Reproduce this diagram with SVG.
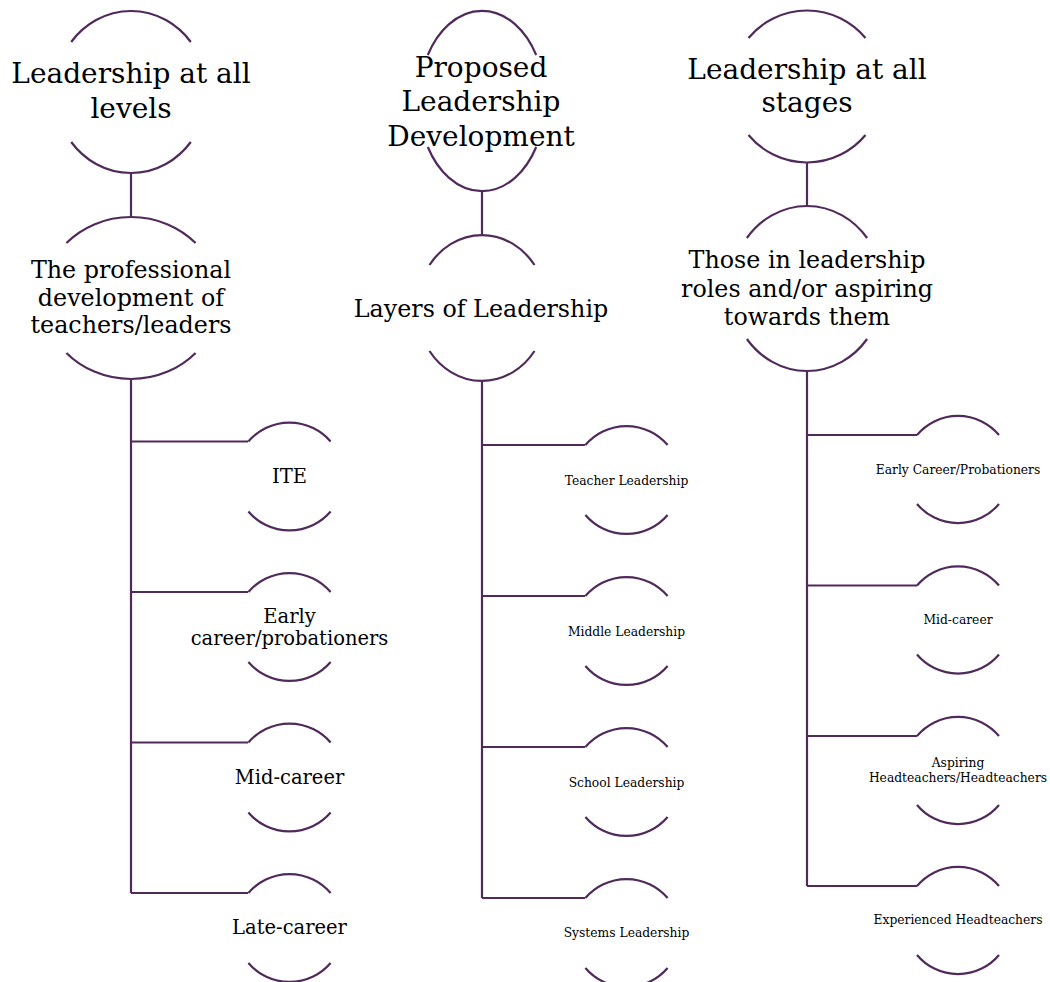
<svg xmlns="http://www.w3.org/2000/svg" width="1050" height="982" viewBox="0 0 1050 982">
<style>
.arc{fill:none;stroke:#502a5a;stroke-width:2.2}
.ln{fill:none;stroke:#502a5a;stroke-width:2.2}
text{font-family:"DejaVu Serif","Liberation Serif",serif;fill:#000;text-anchor:middle}
.t1{font-size:28px}
.t2{font-size:23.8px}
.t3{font-size:19.5px}
.t4{font-size:12.3px}
</style>
<rect width="1050" height="982" fill="#fff"/>
<g id="connectors">
<path class="ln" d="M131,173V217M131,379V893M131,441.5H248M131,592H248M131,742.5H248M131,893H248"/>
<path class="ln" d="M482,191V235M482,381V898M482,445H585M482,596H585M482,747H585M482,898H585"/>
<path class="ln" d="M807,162V206M807,371V886M807,435H917M807,585.5H917M807,736H917M807,886H917"/>
</g>
<g id="n-levels">
<path class="arc" d="M71.2,42A76,81 0 0 1 190.8,42M71.2,142A76,81 0 0 0 190.8,142"/>
<text class="t1" x="131" y="83">Leadership at all</text>
<text class="t1" x="131" y="118">levels</text>
</g>
<g id="n-profdev">
<path class="arc" d="M66.4,243A88,81 0 0 1 195.6,243M66.4,353A88,81 0 0 0 195.6,353"/>
<text class="t2" x="131" y="278">The professional</text>
<text class="t2" x="131" y="306">development of</text>
<text class="t2" x="131" y="333">teachers/leaders</text>
</g>
<g id="n-ite">
<path class="arc" d="M248.4,441.5A54,54 0 0 1 330.6,441.5M248.4,511.5A54,54 0 0 0 330.6,511.5"/>
<text class="t3" x="289.5" y="483">ITE</text>
</g>
<g id="n-early1">
<path class="arc" d="M248.4,592A54,54 0 0 1 330.6,592M248.4,662A54,54 0 0 0 330.6,662"/>
<text class="t3" x="289.5" y="623">Early</text>
<text class="t3" x="289.5" y="645">career/probationers</text>
</g>
<g id="n-mid1">
<path class="arc" d="M248.4,742.5A54,54 0 0 1 330.6,742.5M248.4,812.5A54,54 0 0 0 330.6,812.5"/>
<text class="t3" x="289.5" y="784">Mid-career</text>
</g>
<g id="n-late1">
<path class="arc" d="M248.4,893A54,54 0 0 1 330.6,893M248.4,963A54,54 0 0 0 330.6,963"/>
<text class="t3" x="289.5" y="934">Late-career</text>
</g>
<g id="n-proposed">
<path class="arc" d="M427.8,55A63,90 0 0 1 536.2,55M427.8,147A63,90 0 0 0 536.2,147"/>
<text class="t1" x="481" y="77">Proposed</text>
<text class="t1" x="481" y="111">Leadership</text>
<text class="t1" x="481" y="146">Development</text>
</g>
<g id="n-layers">
<path class="arc" d="M429.5,265A65,73 0 0 1 534.5,265M429.5,351A65,73 0 0 0 534.5,351"/>
<text class="t2" x="481" y="317">Layers of Leadership</text>
</g>
<g id="n-teacher">
<path class="arc" d="M585.4,445A54,54 0 0 1 667.6,445M585.4,515A54,54 0 0 0 667.6,515"/>
<text class="t4" x="626.5" y="485">Teacher Leadership</text>
</g>
<g id="n-middle">
<path class="arc" d="M585.4,596A54,54 0 0 1 667.6,596M585.4,666A54,54 0 0 0 667.6,666"/>
<text class="t4" x="626.5" y="636">Middle Leadership</text>
</g>
<g id="n-school">
<path class="arc" d="M585.4,747A54,54 0 0 1 667.6,747M585.4,817A54,54 0 0 0 667.6,817"/>
<text class="t4" x="626.5" y="787">School Leadership</text>
</g>
<g id="n-systems">
<path class="arc" d="M585.4,898A54,54 0 0 1 667.6,898M585.4,968A54,54 0 0 0 667.6,968"/>
<text class="t4" x="626.5" y="937">Systems Leadership</text>
</g>
<g id="n-stages">
<path class="arc" d="M748.5,38A76,76 0 0 1 865.5,38M748.5,135A76,76 0 0 0 865.5,135"/>
<text class="t1" x="807" y="79">Leadership at all</text>
<text class="t1" x="807" y="112">stages</text>
</g>
<g id="n-those">
<path class="arc" d="M746.9,238A76,82.5 0 0 1 867.1,238M746.9,339A76,82.5 0 0 0 867.1,339"/>
<text class="t2" x="807" y="268">Those in leadership</text>
<text class="t2" x="807" y="297">roles and/or aspiring</text>
<text class="t2" x="807" y="325">towards them</text>
</g>
<g id="n-early3">
<path class="arc" d="M917,435A53.5,53.5 0 0 1 999,435M917,504A53.5,53.5 0 0 0 999,504"/>
<text class="t4" x="958" y="474">Early Career/Probationers</text>
</g>
<g id="n-mid3">
<path class="arc" d="M917,585.5A53.5,53.5 0 0 1 999,585.5M917,654.5A53.5,53.5 0 0 0 999,654.5"/>
<text class="t4" x="958" y="624">Mid-career</text>
</g>
<g id="n-aspiring">
<path class="arc" d="M917,736A53.5,53.5 0 0 1 999,736M917,805A53.5,53.5 0 0 0 999,805"/>
<text class="t4" x="958" y="767">Aspiring</text>
<text class="t4" x="958" y="782">Headteachers/Headteachers</text>
</g>
<g id="n-experienced">
<path class="arc" d="M917,886A53.5,53.5 0 0 1 999,886M917,955A53.5,53.5 0 0 0 999,955"/>
<text class="t4" x="958" y="924">Experienced Headteachers</text>
</g>
</svg>
